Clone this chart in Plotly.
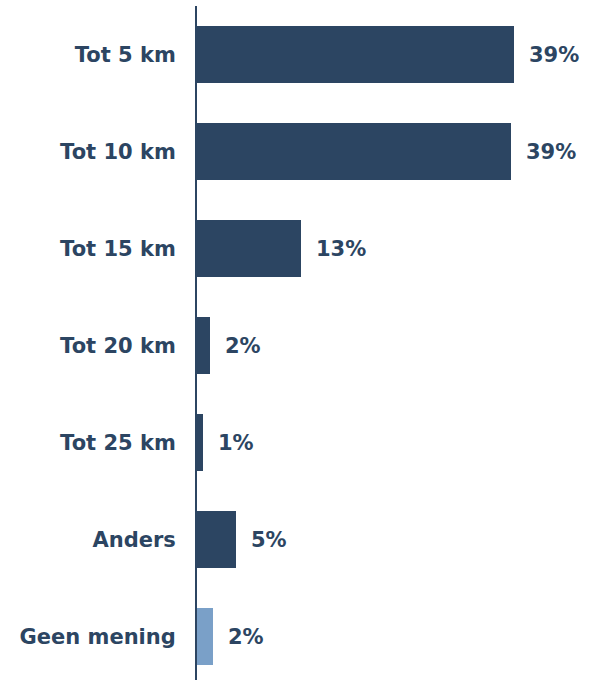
import plotly.graph_objects as go

categories = ["Tot 5 km", "Tot 10 km", "Tot 15 km", "Tot 20 km", "Tot 25 km", "Anders", "Geen mening"]
values = [39.1, 38.8, 12.9, 1.6, 0.8, 4.8, 2.0]
labels = ["39%", "39%", "13%", "2%", "1%", "5%", "2%"]
colors = ["#2c4562"] * 6 + ["#7aa0c8"]

DARK = "#2c4562"
FONT = "DejaVu Sans"

fig = go.Figure()
fig.add_trace(go.Bar(
    y=categories, x=values, orientation="h",
    marker=dict(color=colors, line=dict(width=0)),
    width=0.59, hoverinfo="skip",
))

for c, v, t in zip(categories, values, labels):
    fig.add_annotation(
        x=v, y=c, text="<b>" + t + "</b>", showarrow=False,
        xanchor="left", yanchor="middle", xshift=13,
        font=dict(family=FONT, size=21, color=DARK),
    )

plot_h = 674
pitch = 97
span = plot_h / pitch

fig.update_layout(
    width=591, height=680,
    margin=dict(l=197, r=0, t=6, b=0),
    plot_bgcolor="white", paper_bgcolor="white",
    showlegend=False,
    bargap=0,
    xaxis=dict(range=[0, 394 / 8.1], showgrid=False, zeroline=False,
               showticklabels=False, showline=False, fixedrange=True),
    yaxis=dict(
        type="category",
        categoryorder="array", categoryarray=categories,
        range=[-0.5 + span, -0.5],
        showgrid=False, zeroline=False,
        showline=True, linecolor=DARK, linewidth=2,
        ticks="outside", ticklen=15, tickcolor="rgba(0,0,0,0)",
        tickfont=dict(family=FONT, size=21, color=DARK),
        tickprefix="<b>", ticksuffix="</b>",
        fixedrange=True,
    ),
)

fig.write_html("out.html", config={"displayModeBar": False},
               post_script="document.body.style.margin='0';document.body.style.overflow='hidden';")
